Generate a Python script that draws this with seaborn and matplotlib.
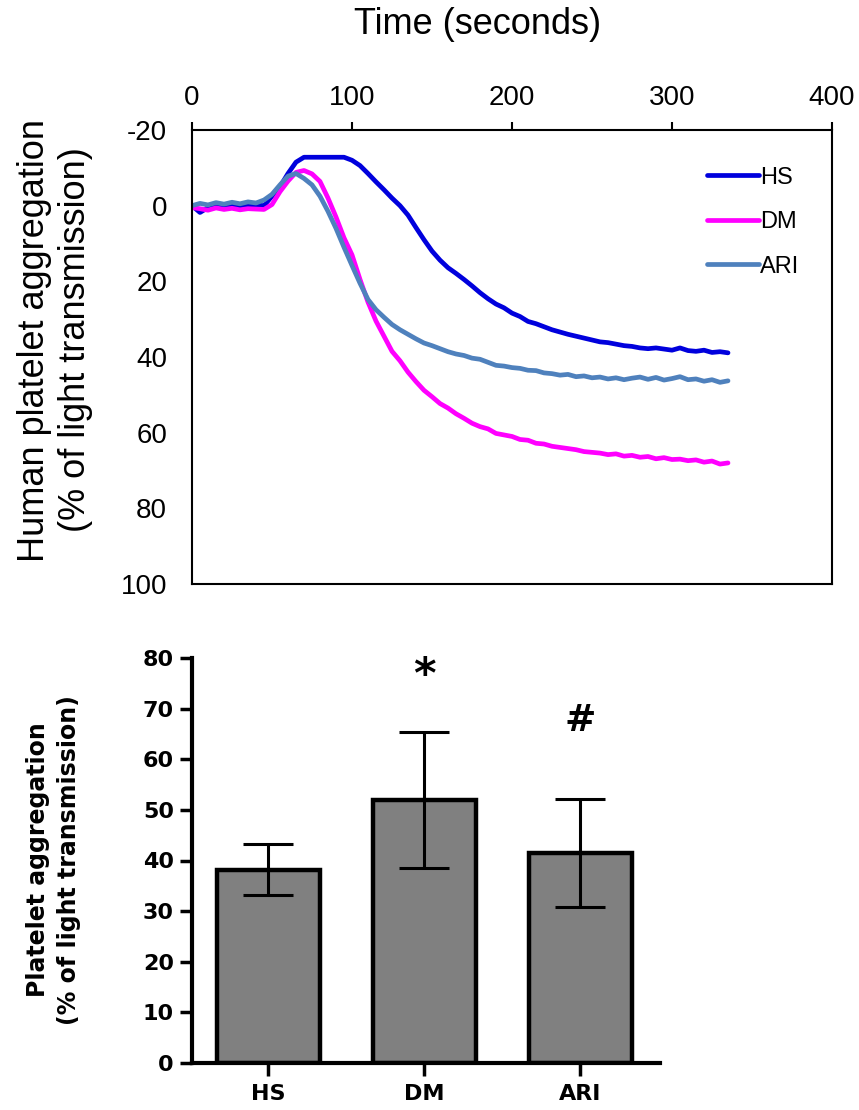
import numpy as np
import pandas as pd
import matplotlib
matplotlib.use('Agg')
import matplotlib.pyplot as plt
import seaborn as sns
from matplotlib.lines import Line2D

# time axis of the aggregation traces (seconds)
time_s = list(range(0, 340, 5))

# traces (% of light transmission, axis is inverted)
hs_trace = [0.0, 1.8, 0.5, 0.3, 0.2, 0.0, 0.4, 0.1, -0.2, 0.0,
            -2.5, -5.0, -8.5, -11.5, -12.8, -12.8, -12.8, -12.8, -12.8, -12.8,
            -12.0, -10.6, -8.5, -6.3, -4.2, -2.0, 0.0, 2.5, 5.8, 9.0,
            12.0, 14.4, 16.4, 17.9, 19.5, 21.2, 23.0, 24.6, 26.0, 27.0,
            28.4, 29.3, 30.6, 31.2, 32.0, 32.8, 33.4, 34.0, 34.5, 35.0,
            35.5, 36.0, 36.2, 36.6, 37.0, 37.2, 37.6, 37.8, 37.6, 37.9,
            38.2, 37.6, 38.3, 38.5, 38.2, 38.8, 38.6, 38.9]
dm_trace = [0.5, 0.8, 1.2, 0.6, 1.0, 0.7, 1.1, 0.8, 0.9, 1.0,
            -0.3, -3.7, -6.5, -8.8, -9.3, -8.4, -6.4, -2.0, 3.0, 8.5,
            13.0, 19.5, 25.5, 30.5, 34.5, 38.5, 41.0, 44.0, 46.5, 48.8,
            50.5, 52.3, 53.5, 55.0, 56.2, 57.5, 58.4, 59.0, 60.2, 60.6,
            61.0, 61.8, 62.0, 62.8, 63.0, 63.6, 63.9, 64.2, 64.5, 65.0,
            65.2, 65.4, 65.8, 65.6, 66.2, 66.0, 66.5, 66.3, 66.9, 66.6,
            67.1, 67.0, 67.4, 67.2, 67.8, 67.5, 68.3, 68.0]
ari_trace = [0.0, -0.6, -0.2, -0.8, -0.4, -0.9, -0.5, -1.0, -0.7, -1.5,
             -3.0, -5.5, -7.8, -8.5, -7.2, -5.5, -2.5, 1.5, 6.0, 11.0,
             15.8, 20.5, 24.8, 27.5, 29.5, 31.4, 32.8, 34.0, 35.2, 36.3,
             37.0, 37.8, 38.6, 39.2, 39.6, 40.3, 40.6, 41.4, 42.2, 42.4,
             42.8, 43.0, 43.5, 43.6, 44.2, 44.4, 44.8, 44.6, 45.2, 45.0,
             45.5, 45.3, 45.8, 45.5, 46.0, 45.6, 45.3, 45.9, 45.4, 46.1,
             45.7, 45.2, 46.0, 45.8, 46.4, 46.0, 46.7, 46.3]

# bar chart summary
groups = ['HS', 'DM', 'ARI']
mean_aggr = [38.2, 52.0, 41.5]
sem_aggr = [5.1, 13.4, 10.6]
marks = ['', '*', '#']

colors = {'HS': '#0000dd', 'DM': '#ff00ff', 'ARI': '#4f81bd'}

sns.set_style('white')
plt.rcParams['axes.unicode_minus'] = False
plt.rcParams['text.color'] = 'black'
plt.rcParams['font.family'] = ['Liberation Sans', 'DejaVu Sans']

fig = plt.figure(figsize=(8.59, 11.10), dpi=100)

# ---- top: aggregation traces ----
ax1 = fig.add_axes([192/859, 1-584/1110, 640/859, 454/1110])
traces = pd.DataFrame({
    'time': time_s * 3,
    'value': hs_trace + dm_trace + ari_trace,
    'group': ['HS'] * len(time_s) + ['DM'] * len(time_s) + ['ARI'] * len(time_s),
})
# draw ARI last so it sits on top, like the original
for g in ['HS', 'DM', 'ARI']:
    sns.lineplot(data=traces[traces['group'] == g], x='time', y='value',
                 color=colors[g], linewidth=3.4, ax=ax1, legend=False)

ax1.set_xlim(0, 400)
ax1.set_ylim(100, -20)
ax1.set_xticks(range(0, 401, 100))
ax1.set_yticks(range(-20, 101, 20))
ax1.xaxis.tick_top()
ax1.set_xlabel('')
ax1.set_ylabel('')
for s in ax1.spines.values():
    s.set_linewidth(1.5)
    s.set_color('black')
ax1.tick_params(axis='both', direction='out', length=6, width=1.5,
                labelsize=20, colors='black')
ax1.tick_params(axis='y', pad=12)
ax1.tick_params(axis='x', pad=8)

fig.text(478/859, 1-25/1110, 'Time (seconds)', ha='center', va='center',
         fontsize=26, color='black')
fig.text(35/859, 1-340/1110, 'Human platelet aggregation', rotation=90,
         ha='center', va='center', fontsize=26, color='black')
fig.text(76/859, 1-340/1110, '(% of light transmission)', rotation=90,
         ha='center', va='center', fontsize=26, color='black')

handles = [Line2D([], [], color=colors[g], linewidth=3.4) for g in groups]
ax1.legend(handles, groups, loc='upper left', bbox_to_anchor=(0.79, 0.94),
           frameon=False, fontsize=17, handlelength=2.2, handletextpad=0.05,
           labelspacing=0.95, borderaxespad=0, labelcolor='black')

# ---- bottom: bar chart ----
ax2 = fig.add_axes([192/859, 1-1063/1110, 468/859, 405/1110])
bars = pd.DataFrame({'group': groups, 'mean': mean_aggr})
sns.barplot(data=bars, x='group', y='mean', order=groups, color='#808080',
            saturation=1, width=0.66, edgecolor='black', linewidth=3.2,
            errorbar=None, ax=ax2)
ax2.errorbar(range(len(groups)), mean_aggr, yerr=sem_aggr, fmt='none',
             ecolor='black', elinewidth=2.2, capsize=18, capthick=2.2, zorder=5)
for i, m in enumerate(marks):
    if not m:
        continue
    if m == '*':
        ax2.text(i, 76.5, m, ha='center', va='center', fontsize=31,
                 fontweight='bold', family='DejaVu Sans', color='black')
    else:
        ax2.text(i, 67.6, m, ha='center', va='center', fontsize=27,
                 fontweight='bold', family='DejaVu Sans', color='black')

ax2.set_xlim(-0.49, 2.51)
ax2.set_ylim(0, 80)
ax2.set_yticks(range(0, 81, 10))
ax2.set_xlabel('')
ax2.set_ylabel('')
sns.despine(ax=ax2)
for s in ['left', 'bottom']:
    ax2.spines[s].set_linewidth(3)
    ax2.spines[s].set_color('black')
ax2.tick_params(axis='both', direction='out', length=9, width=2.5,
                labelsize=16, colors='black', pad=4, bottom=True, left=True)
ax2.tick_params(axis='x', pad=6)
for lab in ax2.get_xticklabels() + ax2.get_yticklabels():
    lab.set_fontweight('bold')
    lab.set_family('DejaVu Sans')

fig.text(38/859, 1-860/1110, 'Platelet aggregation', rotation=90,
         ha='center', va='center', fontsize=17, fontweight='bold',
         family='DejaVu Sans', color='black')
fig.text(69/859, 1-860/1110, '(% of light transmission)', rotation=90,
         ha='center', va='center', fontsize=17, fontweight='bold',
         family='DejaVu Sans', color='black')

fig.savefig('out.png', dpi=100)
